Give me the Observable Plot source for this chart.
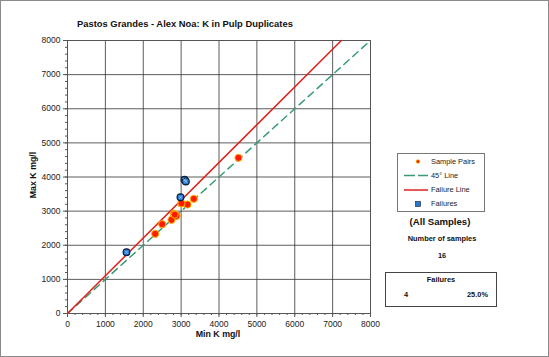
<!DOCTYPE html>
<html><head><meta charset="utf-8">
<script src="https://cdn.jsdelivr.net/npm/d3@7"></script>
<script src="https://cdn.jsdelivr.net/npm/@observablehq/plot@0.6"></script>
<style>
body{margin:0;background:#fff;font-family:"Liberation Sans",Arial,sans-serif;}
#wrap{position:relative;width:549px;height:357px;overflow:hidden;}
#frame{position:absolute;left:0;top:0;width:547px;height:355px;border:1px solid #8a8a8a;pointer-events:none;}
.t{position:absolute;white-space:nowrap;color:#111;}
.b{font-weight:bold;}
</style></head>
<body>
<div id="wrap"><div id="chart"></div><div id="frame"></div></div>
<script>
// ---- data ----
const title = "Pastos Grandes - Alex Noa: K in Pulp Duplicates";
const xLabel = "Min K mg/l";
const yLabel = "Max K mg/l";
const majorTicks = [0,1000,2000,3000,4000,5000,6000,7000,8000];
const minorTicks = d3.range(0, 8001, 200);
// sample pairs (min, max)
const pairMin = [2315, 2500, 2746, 2807, 2869, 2880, 3001, 3168, 3335, 4514, 2830, 3010];
const pairMax = [2335, 2617, 2745, 2921, 2871, 2860, 3223, 3194, 3360, 4562, 2900, 3230];
// failures (min, max)
const failMin = [1558, 2983, 3089, 3124];
const failMax = [1796, 3407, 3917, 3868];
// reference lines
const line45X = [0, 8000];
const line45Y = [0, 8000];
const failLineX = [0, 7230];
const failLineY = [0, 8000];
const nSamples = 16;
const nFailures = 4;
const failPct = "25.0%";

const pairs = pairMin.map((x,i)=>({x, y: pairMax[i]}));
const fails = failMin.map((x,i)=>({x, y: failMax[i]}));
const l45 = line45X.map((x,i)=>({x, y: line45Y[i]}));
const lf = failLineX.map((x,i)=>({x, y: failLineY[i]}));

const plot = Plot.plot({
  width: 549, height: 357,
  marginLeft: 67, marginRight: 179, marginTop: 40, marginBottom: 44,
  style: {fontFamily: '"Liberation Sans", Arial, sans-serif', fontSize: "8.5px", color: "#222", background: "transparent"},
  x: {domain: [0, 8000], label: null},
  y: {domain: [0, 8000], label: null},
  marks: [
    Plot.gridX(majorTicks, {stroke: "#333", strokeOpacity: 1, strokeWidth: 0.8}),
    Plot.gridY(majorTicks, {stroke: "#333", strokeOpacity: 1, strokeWidth: 0.8}),
    Plot.frame({stroke: "#555"}),
    Plot.axisX(minorTicks, {tickSize: 2, text: null, stroke: "#555", label: null}),
    Plot.axisY(minorTicks, {tickSize: 2, text: null, stroke: "#555", label: null}),
    Plot.axisX(majorTicks, {tickSize: 4, tickPadding: 3, stroke: "#555", fill: "#222", label: null, tickFormat: d => String(d)}),
    Plot.axisY(majorTicks, {tickSize: 4, tickPadding: 3, stroke: "#555", fill: "#222", label: null, tickFormat: d => String(d)}),
    Plot.line(l45, {x: "x", y: "y", stroke: "#3a9a72", strokeWidth: 1.5, strokeDasharray: "7,5"}),
    Plot.line(lf, {x: "x", y: "y", stroke: "#e0201c", strokeWidth: 1.5}),
    Plot.dot(pairs, {x: "x", y: "y", r: 3.6, fill: "#ff1a00", stroke: "#ffb400", strokeWidth: 1}),
    Plot.dot(fails, {x: "x", y: "y", r: 3.4, fill: "#2577d0", stroke: "#0d1c3a", strokeWidth: 1.2}),
    Plot.dot(fails, {x: "x", y: "y", r: 1.8, symbol: "times", stroke: "#8fd0ff", strokeWidth: 0.8})
  ]
});
document.getElementById("chart").appendChild(plot);

const wrap = document.getElementById("wrap");
function txt(s, css, cls="t"){ const d=document.createElement("div"); d.className=cls; d.textContent=s; d.style.cssText=css; wrap.appendChild(d); return d; }
txt(title, "left:77px;top:18px;font-size:9.4px;", "t b");
txt(xLabel, "left:218px;top:329px;font-size:8.8px;transform:translateX(-50%);", "t b");
txt(yLabel, "left:33px;top:175px;font-size:8.8px;transform:translate(-50%,-50%) rotate(-90deg);", "t b");

// legend box
const lg = document.createElement("div");
lg.style.cssText = "position:absolute;left:397px;top:153px;width:86px;height:57px;border:1px solid #777;background:#fff;";
wrap.appendChild(lg);
const legendItems = [
  {label:"Sample Pairs", y:7.5, kind:"pair"},
  {label:"45\u00B0 Line", y:21.5, kind:"l45"},
  {label:"Failure Line", y:36, kind:"lf"},
  {label:"Failures", y:50, kind:"fail"}
];
const NS="http://www.w3.org/2000/svg";
const ls = document.createElementNS(NS,"svg");
ls.setAttribute("width","86"); ls.setAttribute("height","57");
ls.style.cssText="position:absolute;left:0;top:0;";
lg.appendChild(ls);
for (const it of legendItems){
  if (it.kind==="pair"){ const c=document.createElementNS(NS,"circle"); c.setAttribute("cx","20"); c.setAttribute("cy",it.y); c.setAttribute("r","1.8"); c.setAttribute("fill","#e02000"); c.setAttribute("stroke","#ffb400"); c.setAttribute("stroke-width","0.8"); ls.appendChild(c); }
  if (it.kind==="fail"){ const c=document.createElementNS(NS,"rect"); c.setAttribute("x","17.5"); c.setAttribute("y",it.y-2.5); c.setAttribute("width","5"); c.setAttribute("height","5"); c.setAttribute("fill","#2577d0"); c.setAttribute("stroke","#0d1c3a"); c.setAttribute("stroke-width","0.6"); ls.appendChild(c); }
  if (it.kind==="l45"||it.kind==="lf"){ const l=document.createElementNS(NS,"line"); l.setAttribute("x1","6"); l.setAttribute("x2","30"); l.setAttribute("y1",it.y); l.setAttribute("y2",it.y); l.setAttribute("stroke", it.kind==="l45"?"#3a9a72":"#e0201c"); l.setAttribute("stroke-width","1.5"); if(it.kind==="l45") l.setAttribute("stroke-dasharray","11,3"); ls.appendChild(l); }
  const t=document.createElement("div"); t.className="t"; t.textContent=it.label; t.style.cssText=`left:33px;top:${it.y-5}px;font-size:7.4px;color:#222;`; lg.appendChild(t);
}
txt("(All Samples)", "left:440px;top:216px;font-size:9.6px;transform:translateX(-50%);", "t b");
txt("Number of samples", "left:442px;top:234px;font-size:7.4px;transform:translateX(-50%);", "t b");
txt(String(nSamples), "left:442px;top:251px;font-size:7.4px;transform:translateX(-50%);", "t b");
const fb = document.createElement("div");
fb.style.cssText="position:absolute;left:385px;top:272px;width:110px;height:33px;border:1px solid #444;";
wrap.appendChild(fb);
txt("Failures", "left:441px;top:275px;font-size:7.4px;transform:translateX(-50%);", "t b");
txt(String(nFailures), "left:404px;top:290px;font-size:7.4px;", "t b");
txt(failPct, "left:467px;top:290px;font-size:7.4px;", "t b");
</script>
</body></html>
